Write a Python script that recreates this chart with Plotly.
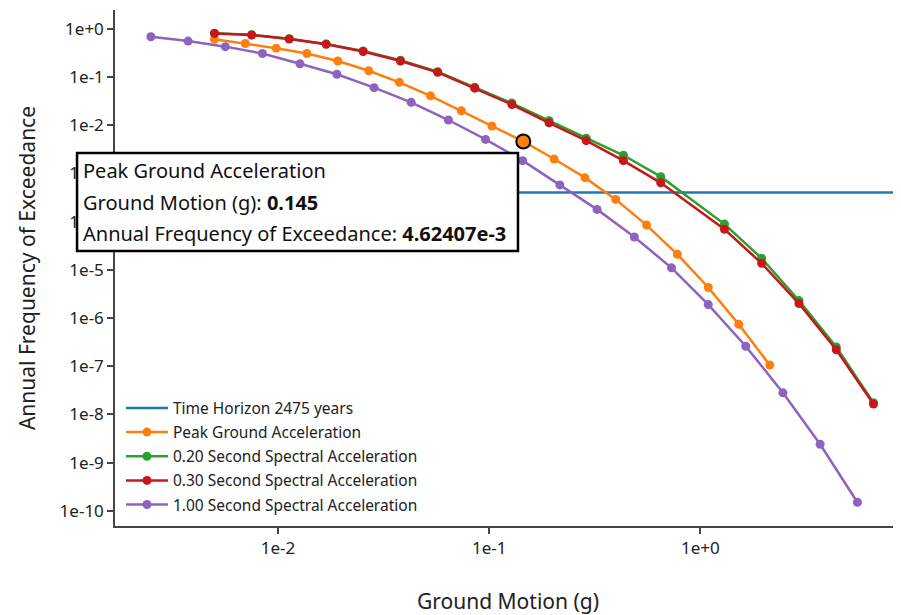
import plotly.graph_objects as go

# ---------------- data ----------------
time_horizon_years = 2475
horizon_label = "Time Horizon 2475 years"

pga_name = "Peak Ground Acceleration"
pga_x = [0.005, 0.007, 0.0098, 0.0137, 0.0192, 0.0269, 0.0376, 0.0527, 0.0738, 0.103,
         0.145, 0.203, 0.284, 0.397, 0.556, 0.778, 1.09, 1.52, 2.13]
pga_y = [0.61, 0.50, 0.40, 0.31, 0.217, 0.136, 0.078, 0.041, 0.020, 0.0097,
         4.62407e-3, 2.0e-3, 8.2e-4, 2.9e-4, 8.5e-5, 2.1e-5, 4.3e-6, 7.4e-7, 1.06e-7]

sa02_name = "0.20 Second Spectral Acceleration"
sa03_name = "0.30 Second Spectral Acceleration"
sa_x = [0.005, 0.0075, 0.0113, 0.0169, 0.0253, 0.038, 0.057, 0.0854, 0.128, 0.192,
        0.288, 0.432, 0.649, 1.30, 1.95, 2.93, 4.40, 6.60]
sa02_y = [0.82, 0.76, 0.63, 0.49, 0.35, 0.225, 0.13, 0.062, 0.029, 0.0125,
          5.4e-3, 2.39e-3, 8.6e-4, 8.9e-5, 1.74e-5, 2.3e-6, 2.5e-7, 1.75e-8]
sa03_y = [0.81, 0.75, 0.62, 0.48, 0.34, 0.217, 0.126, 0.059, 0.027, 0.0113,
          4.8e-3, 1.85e-3, 6.4e-4, 6.95e-5, 1.37e-5, 2.0e-6, 2.2e-7, 1.64e-8]

sa10_name = "1.00 Second Spectral Acceleration"
sa10_x = [0.0025, 0.00375, 0.00563, 0.00844, 0.0127, 0.019, 0.0285, 0.0427, 0.0641, 0.0961,
          0.144, 0.216, 0.324, 0.487, 0.73, 1.09, 1.64, 2.46, 3.69, 5.54]
sa10_y = [0.69, 0.56, 0.43, 0.31, 0.19, 0.115, 0.0605, 0.030, 0.0129, 0.0051,
          0.00185, 5.8e-4, 1.8e-4, 4.8e-5, 1.1e-5, 1.9e-6, 2.6e-7, 2.8e-8, 2.4e-9, 1.5e-10]

highlight_index = 10  # PGA point shown in the tooltip
highlight_label = "4.62407e-3"

x_tick_vals = [0.01, 0.1, 1.0]
x_tick_text = ["1e-2", "1e-1", "1e+0"]
y_tick_vals = [10.0 ** -k for k in range(0, 11)]
y_tick_text = ["1e+0"] + ["1e-%d" % k for k in range(1, 11)]

x_log_range = [-2.772, 0.95]
y_log_range = [-10.317, 0.394]

# ---------------- figure ----------------
FONT = "Noto Sans"
C_BLUE = "#1f77b4"
C_ORANGE = "#ff7f0e"
C_GREEN = "#2ca02c"
C_RED = "#c8161d"
C_PURPLE = "#8e63c0"

fig = go.Figure()

horizon_y = 1.0 / time_horizon_years
fig.add_trace(go.Scatter(
    x=[10 ** x_log_range[0], 10 ** x_log_range[1]], y=[horizon_y, horizon_y],
    mode="lines", name=horizon_label, legendgroup="g0",
    line=dict(color=C_BLUE, width=2.5)))

def curve(x, y, name, color, grp):
    return go.Scatter(x=x, y=y, mode="lines+markers", name=name, legendgroup=grp,
                      line=dict(color=color, width=2.5),
                      marker=dict(color=color, size=9))

fig.add_trace(curve(pga_x, pga_y, pga_name, C_ORANGE, "g1"))
fig.add_trace(curve(sa_x, sa02_y, sa02_name, C_GREEN, "g2"))
fig.add_trace(curve(sa_x, sa03_y, sa03_name, C_RED, "g3"))
fig.add_trace(curve(sa10_x, sa10_y, sa10_name, C_PURPLE, "g4"))

# highlighted point
fig.add_trace(go.Scatter(
    x=[pga_x[highlight_index]], y=[pga_y[highlight_index]], mode="markers",
    showlegend=False,
    marker=dict(color=C_ORANGE, size=14, line=dict(color="black", width=2))))

# tooltip box
box_x0, box_x1 = -0.0483, 0.5127
box_y0, box_y1 = 0.5329, 0.7229
fig.add_shape(type="rect", xref="paper", yref="paper",
              x0=box_x0, x1=box_x1, y0=box_y0, y1=box_y1,
              line=dict(color="black", width=2.5), fillcolor="white", layer="above")
tip_lines = [
    pga_name,
    "Ground Motion (g): <b>%s</b>" % f"{pga_x[highlight_index]:g}",
    "Annual Frequency of Exceedance: <b>%s</b>" % highlight_label,
]
line_y = [0.688, 0.626, 0.566]
for t, yy in zip(tip_lines, line_y):
    fig.add_annotation(xref="paper", yref="paper", x=-0.043, y=yy,
                       xanchor="left", yanchor="middle", showarrow=False,
                       text=t, font=dict(family=FONT, size=20, color="#111"))

axis_common = dict(
    type="log", showgrid=False, zeroline=False, showline=True,
    linecolor="#444", linewidth=1.5, ticks="outside", ticklen=6,
    tickwidth=1.5, tickcolor="#444",
    tickfont=dict(family=FONT, size=17, color="#222"),
)

fig.update_layout(
    width=893, height=607,
    margin=dict(l=107, r=0, t=2, b=89),
    paper_bgcolor="white", plot_bgcolor="white",
    font=dict(family=FONT, color="#222"),
    xaxis=dict(axis_common, range=x_log_range, tickvals=x_tick_vals, ticktext=x_tick_text,
               title=dict(text="Ground Motion (g)", font=dict(family=FONT, size=21, color="#222"),
                          standoff=36)),
    yaxis=dict(axis_common, range=y_log_range, tickvals=y_tick_vals, ticktext=y_tick_text,
               title=dict(text="Annual Frequency of Exceedance",
                          font=dict(family=FONT, size=21, color="#222"), standoff=18)),
    legend=dict(x=0.0076, y=0.009, xanchor="left", yanchor="bottom",
                bgcolor="rgba(255,255,255,0)", tracegroupgap=1, itemwidth=42,
                font=dict(family=FONT, size=15.5, color="#222")),
    showlegend=True,
)

fig.write_html("out.html")
